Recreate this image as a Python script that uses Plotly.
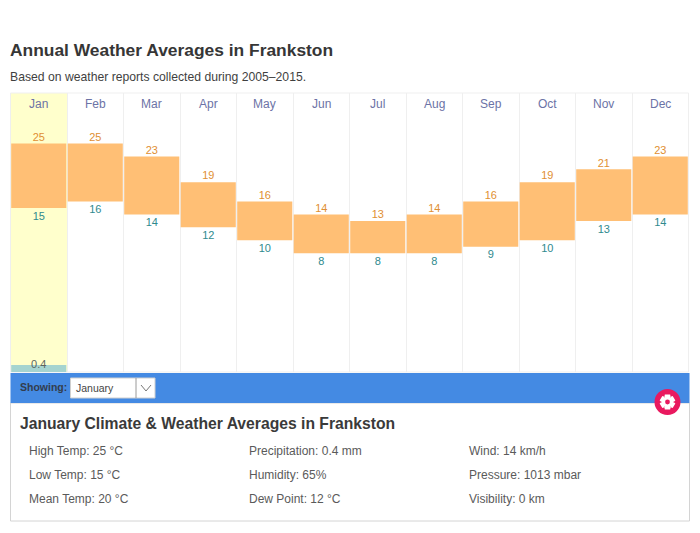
import math
import plotly.graph_objects as go

months = ["Jan", "Feb", "Mar", "Apr", "May", "Jun", "Jul", "Aug", "Sep", "Oct", "Nov", "Dec"]
high_temp = [25, 25, 23, 19, 16, 14, 13, 14, 16, 19, 21, 23]
low_temp = [15, 16, 14, 12, 10, 8, 8, 8, 9, 10, 13, 14]
precip_months = ["Jan"]
precip_values = [0.4]
highlight_month = "Jan"

title_text = "Annual Weather Averages in Frankston"
subtitle_text = "Based on weather reports collected during 2005–2015."
showing_label = "Showing:"
selected_month = "January"
panel_title = "January Climate & Weather Averages in Frankston"
detail_col1 = ["High Temp: 25 °C", "Low Temp: 15 °C", "Mean Temp: 20 °C"]
detail_col2 = ["Precipitation: 0.4 mm", "Humidity: 65%", "Dew Point: 12 °C"]
detail_col3 = ["Wind: 14 km/h", "Pressure: 1013 mbar", "Visibility: 0 km"]

W, H = 700, 533
FONT = "Liberation Sans, Arial, sans-serif"
PL, PR, PT, PB = 10.5, 688.5, 93, 372


def px(x):
    return x / W


def py(y):
    return 1 - y / H


xpos = list(range(len(months)))
ix = {m: i for i, m in enumerate(months)}

fig = go.Figure()
fig.add_trace(go.Bar(
    x=xpos, y=[h - l for h, l in zip(high_temp, low_temp)], base=low_temp,
    width=0.975, marker=dict(color="#ffbf75", line=dict(width=0)),
    hoverinfo="skip", showlegend=False))
fig.add_trace(go.Scatter(
    x=xpos, y=high_temp, mode="text", text=[str(v) for v in high_temp],
    textposition="top center", textfont=dict(family=FONT, size=11, color="#df8f33"),
    cliponaxis=False, showlegend=False))
fig.add_trace(go.Scatter(
    x=xpos, y=low_temp, mode="text+markers", text=[str(v) for v in low_temp],
    marker=dict(size=4, opacity=0),
    textposition="bottom center", textfont=dict(family=FONT, size=11, color="#2f8a8e"),
    cliponaxis=False, showlegend=False))
px_idx = [ix[m] for m in precip_months]
fig.add_trace(go.Bar(
    x=px_idx, y=precip_values, yaxis="y2", width=0.975,
    marker=dict(color="#a5d4d0", line=dict(width=0)),
    hoverinfo="skip", showlegend=False))
fig.add_trace(go.Scatter(
    x=px_idx, y=precip_values, yaxis="y2", mode="text",
    text=[str(v) for v in precip_values], textposition="middle center",
    textfont=dict(family=FONT, size=11, color="#5c6460"),
    cliponaxis=False, showlegend=False))

shapes = []


def rect(x0, y0, x1, y1, fill, line=None, lw=1, layer="above"):
    shapes.append(dict(type="rect", xref="paper", yref="paper",
                       x0=px(x0), x1=px(x1), y0=py(y0), y1=py(y1),
                       fillcolor=fill, layer=layer,
                       line=dict(color=line or "rgba(0,0,0,0)", width=lw if line else 0)))


def seg(x0, y0, x1, y1, color, lw=1):
    shapes.append(dict(type="line", xref="paper", yref="paper",
                       x0=px(x0), x1=px(x1), y0=py(y0), y1=py(y1),
                       layer="above", line=dict(color=color, width=lw)))


# highlighted column
shapes.append(dict(type="rect", xref="x", yref="paper",
                   x0=ix[highlight_month] - 0.5, x1=ix[highlight_month] + 0.5,
                   y0=py(PB), y1=py(PT), fillcolor="#ffffcc", layer="below",
                   line=dict(width=0)))
# frame of the plot area
shapes.append(dict(type="rect", xref="paper", yref="paper", x0=px(PL), x1=px(PR), y0=py(PB), y1=py(PT),
                   line=dict(color="#efefef", width=1), layer="below"))
# details panel
rect(10.5, 403, 689.5, 521, "#ffffff", "#d4d4d4", 1)
# blue strip
rect(10.5, 373, 689.5, 403, "#448ae3")
# select widget
rect(70.5, 378, 155, 398, "#ffffff", "#cfcfcf", 1)
seg(136, 378, 136, 398, "#9a9a9a", 1)
seg(141, 385, 146, 391, "#777777", 1)
seg(146, 391, 151, 385, "#777777", 1)
# settings button
cx, cy, r = 667.5, 402, 13
shapes.append(dict(type="circle", xref="paper", yref="paper",
                   x0=px(cx - r), x1=px(cx + r), y0=py(cy - r), y1=py(cy + r),
                   fillcolor="#e9195f", line=dict(width=0), layer="above"))
pts = []
for k in range(6):
    a = k * math.pi / 3 + math.pi / 6
    for d, rad in ((-0.34, 8.0), (0.34, 8.0), (0.62, 5.6)):
        pts.append((cx + rad * math.cos(a + d), cy + rad * math.sin(a + d)))
    a2 = a + math.pi / 3
    pts.append((cx + 5.6 * math.cos(a2 - 0.62), cy + 5.6 * math.sin(a2 - 0.62)))
gear = "M " + " L ".join(f"{px(a):.5f},{py(b):.5f}" for a, b in pts) + " Z"
shapes.append(dict(type="path", xref="paper", yref="paper", path=gear,
                   fillcolor="#ffffff", line=dict(width=0), layer="above"))
shapes.append(dict(type="circle", xref="paper", yref="paper",
                   x0=px(cx - 2.4), x1=px(cx + 2.4), y0=py(cy - 2.4), y1=py(cy + 2.4),
                   fillcolor="#e9195f", line=dict(width=0), layer="above"))

ann = []


def text(x, y, s, size, color, bold=False, anchor="left"):
    ann.append(dict(xref="paper", yref="paper", x=px(x), y=py(y), text=f"<b>{s}</b>" if bold else s,
                    showarrow=False, xanchor=anchor, yanchor="middle",
                    font=dict(family=FONT, size=size, color=color),
                    borderpad=0, borderwidth=0))


text(10, 50, title_text, 17.4, "#363636", True)
text(10, 77, subtitle_text, 12.2, "#3f3f3f")
for m, i in ix.items():
    ann.append(dict(xref="x", yref="paper", x=i, y=py(104.5), text=m, showarrow=False,
                    yanchor="middle", xanchor="center",
                    font=dict(family=FONT, size=12, color="#6c73a6")))
text(20, 386.5, showing_label, 10.5, "#333d4d", True)
text(76, 388, selected_month, 10.5, "#444444")
text(20, 423.5, panel_title, 15.7, "#3a3a3a", True)
for col_x, col in ((28.5, detail_col1), (248.5, detail_col2), (468.5, detail_col3)):
    for row_y, s in zip((450.5, 474.5, 498.5), col):
        text(col_x, row_y, s, 12, "#5a5a5a")

# temperature scale: 6.45 px per degree, anchored so that 25 sits at y = 143.5
PX_PER_DEG = 6.45
t_top = 25 + (143.5 - PT) / PX_PER_DEG
t_bot = 25 - (PB - 143.5) / PX_PER_DEG

fig.update_layout(
    width=W, height=H, autosize=False,
    margin=dict(l=0, r=0, t=0, b=0),
    paper_bgcolor="#ffffff", plot_bgcolor="rgba(0,0,0,0)",
    barmode="overlay", showlegend=False, hovermode=False,
    shapes=shapes, annotations=ann,
    xaxis=dict(domain=[px(PL), px(PR)], range=[-0.5, 11.5], tick0=-0.5, dtick=1,
               showgrid=True, gridcolor="#efefef", gridwidth=1, zeroline=False,
               showticklabels=False, ticks="", showline=False),
    yaxis=dict(domain=[py(PB), py(PT)], range=[t_bot, t_top], showgrid=False,
               zeroline=False, showticklabels=False, ticks=""),
    yaxis2=dict(domain=[py(PB), py(PT)], range=[0, 16], overlaying="y", side="right",
                showgrid=False, zeroline=False, showticklabels=False, ticks=""),
)

fig.write_html("out.html", config={"displayModeBar": False},
               post_script="document.body.style.margin='0';document.body.style.overflow='hidden';")
